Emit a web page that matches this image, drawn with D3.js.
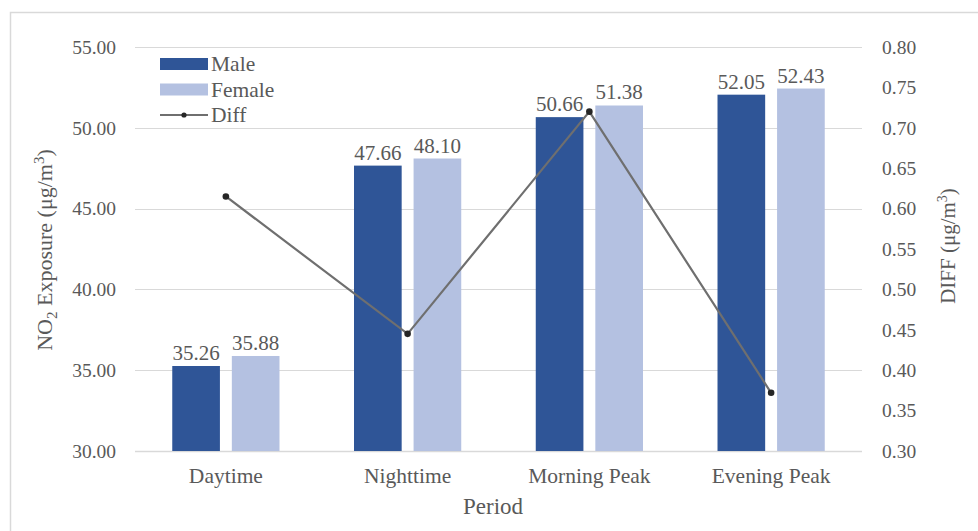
<!DOCTYPE html>
<html><head><meta charset="utf-8">
<script src="https://cdn.jsdelivr.net/npm/d3@7/dist/d3.min.js"></script>
<style>body{margin:0;background:#fff}svg text{font-family:"Liberation Serif","Times New Roman",serif;fill:#595959}</style>
</head><body><svg id="c" width="978" height="531"></svg>
<script>
const categories = ["Daytime","Nighttime","Morning Peak","Evening Peak"];
const maleValues = [35.26,47.66,50.66,52.05];
const femaleValues = [35.88,48.10,51.38,52.43];
const diffValues = [0.615,0.445,0.72,0.372];
const leftTicks = [30,35,40,45,50,55];
const rightTicks = [0.30,0.35,0.40,0.45,0.50,0.55,0.60,0.65,0.70,0.75,0.80];
const seriesNames = ["Male","Female"];
const colors = {Male:"#2F5597",Female:"#B4C1E1",Diff:"#6f6f6f"};

const svg = d3.select("#c");
const m = {l:135,r:862,t:47,b:451};
svg.append("rect").attr("x",10.5).attr("y",12.5).attr("width",1000).attr("height",600)
  .attr("fill","none").attr("stroke","#d9d9d9").attr("stroke-width",1.5);

const x = d3.scaleBand().domain(categories).range([m.l,m.r]).paddingInner(0.41).paddingOuter(0.205);
const x1 = d3.scaleBand().domain(seriesNames).range([0,x.bandwidth()]).paddingInner(0.2);
const y = d3.scaleLinear().domain([30,55]).range([m.b,m.t]);
const y2 = d3.scaleLinear().domain([0.30,0.80]).range([m.b,m.t]);

// gridlines
svg.append("g").selectAll("line").data(leftTicks.slice(1)).join("line")
  .attr("x1",m.l).attr("x2",m.r).attr("y1",d=>Math.round(y(d))+0.5).attr("y2",d=>Math.round(y(d))+0.5)
  .attr("stroke","#d9d9d9").attr("stroke-width",1.2);
svg.append("line").attr("x1",m.l).attr("x2",m.r).attr("y1",Math.round(y(30))+0.5).attr("y2",Math.round(y(30))+0.5)
  .attr("stroke","#d9d9d9").attr("stroke-width",1.5);

const ff = "Liberation Serif, Times New Roman, serif";
// left axis
const ya = svg.append("g").attr("transform",`translate(${m.l},0)`)
  .call(d3.axisLeft(y).tickValues(leftTicks).tickFormat(d3.format(".2f")).tickSize(0).tickPadding(19));
ya.select(".domain").remove();
ya.attr("font-family",ff);
ya.selectAll("text").attr("font-size",19.5).attr("fill","#595959");

const yb = svg.append("g").attr("transform",`translate(${m.r},0)`)
  .call(d3.axisRight(y2).tickValues(rightTicks).tickFormat(d3.format(".2f")).tickSize(0).tickPadding(20));
yb.select(".domain").remove();
yb.attr("font-family",ff);
yb.selectAll("text").attr("font-size",19.5).attr("fill","#595959");

const xa = svg.append("g").attr("transform",`translate(0,${m.b})`)
  .call(d3.axisBottom(x).tickSize(0).tickPadding(17));
xa.select(".domain").remove();
xa.attr("font-family",ff);
xa.selectAll("text").attr("font-size",21.5).attr("fill","#595959");

// bars
const groups = svg.append("g").selectAll("g").data(categories).join("g")
  .attr("transform",d=>`translate(${x(d)},0)`);
const rows = (i)=>[{s:"Male",v:maleValues[i]},{s:"Female",v:femaleValues[i]}];
groups.each(function(c,i){
  const g = d3.select(this);
  g.selectAll("rect").data(rows(i)).join("rect")
    .attr("x",d=>x1(d.s)).attr("width",x1.bandwidth())
    .attr("y",d=>y(d.v)).attr("height",d=>y(30)-y(d.v))
    .attr("fill",d=>colors[d.s]);
  g.selectAll("text").data(rows(i)).join("text")
    .attr("x",d=>x1(d.s)+x1.bandwidth()/2).attr("y",d=>y(d.v)-6)
    .attr("text-anchor","middle").attr("font-size",21).text(d=>d.v.toFixed(2));
});

// diff line
const line = d3.line().x((d,i)=>x(categories[i])+x.bandwidth()/2).y(d=>y2(d));
svg.append("path").datum(diffValues).attr("d",line).attr("fill","none")
  .attr("stroke",colors.Diff).attr("stroke-width",2.2);
svg.append("g").selectAll("circle").data(diffValues).join("circle")
  .attr("cx",(d,i)=>x(categories[i])+x.bandwidth()/2).attr("cy",d=>y2(d)).attr("r",3.3).attr("fill","#262626");

// legend
const lg = svg.append("g");
const leg = [{n:"Male",t:"rect"},{n:"Female",t:"rect"},{n:"Diff",t:"line"}];
leg.forEach((d,i)=>{
  const cy = 64 + i*25.5;
  if(d.t==="rect"){
    lg.append("rect").attr("x",160).attr("y",cy-6).attr("width",48).attr("height",12).attr("fill",colors[d.n]);
  } else {
    lg.append("line").attr("x1",160).attr("x2",208).attr("y1",cy).attr("y2",cy).attr("stroke",colors.Diff).attr("stroke-width",2.2);
    lg.append("circle").attr("cx",184).attr("cy",cy).attr("r",2.6).attr("fill","#262626");
  }
  lg.append("text").attr("x",211).attr("y",cy+7).attr("font-size",21.5).text(d.n);
});

// axis titles
const lt = svg.append("text").attr("transform","translate(52,250) rotate(-90)").attr("text-anchor","middle").attr("font-size",22);
lt.append("tspan").text("NO");
lt.append("tspan").attr("font-size",15).attr("dy",5).text("2");
lt.append("tspan").attr("dy",-5).text(" Exposure (μg/m");
lt.append("tspan").attr("font-size",15).attr("dy",-8).text("3");
lt.append("tspan").attr("dy",8).text(")");

const rt = svg.append("text").attr("transform","translate(955,246) rotate(-90)").attr("text-anchor","middle").attr("font-size",21);
rt.append("tspan").text("DIFF (μg/m");
rt.append("tspan").attr("font-size",14).attr("dy",-8).text("3");
rt.append("tspan").attr("dy",8).text(")");

svg.append("text").attr("x",493).attr("y",514).attr("text-anchor","middle").attr("font-size",23).text("Period");
</script></body></html>
